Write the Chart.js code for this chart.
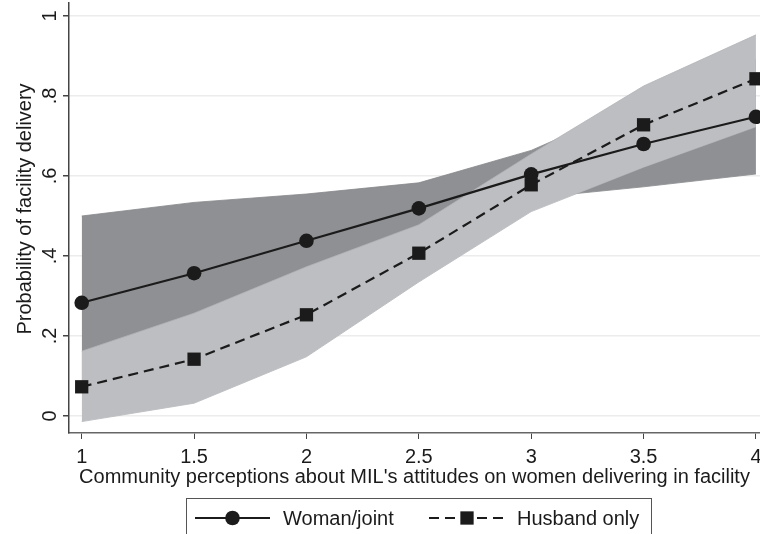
<!DOCTYPE html>
<html><head><meta charset="utf-8">
<script src="https://cdn.jsdelivr.net/npm/chart.js@4"></script>
<style>html,body{margin:0;padding:0;background:#fff}#wrap{width:760px;height:534px}</style>
</head><body><div id="wrap"><canvas id="c" width="760" height="534"></canvas></div>
<script>
// ---- data ----
const xValues = [1, 1.5, 2, 2.5, 3, 3.5, 4];
const womanJoint = [0.283, 0.357, 0.438, 0.519, 0.604, 0.680, 0.748];
const womanLower = [0.066, 0.180, 0.321, 0.455, 0.545, 0.573, 0.605];
const womanUpper = [0.500, 0.534, 0.555, 0.583, 0.664, 0.787, 0.891];
const husbandOnly = [0.073, 0.142, 0.253, 0.407, 0.578, 0.728, 0.843];
const husbandLower = [-0.014, 0.032, 0.148, 0.335, 0.511, 0.622, 0.723];
const husbandUpper = [0.162, 0.257, 0.373, 0.478, 0.655, 0.825, 0.953];
const yTicks = [0, 0.2, 0.4, 0.6, 0.8, 1];
const yTickLabels = ['0', '.2', '.4', '.6', '.8', '1'];
const xTicks = [1, 1.5, 2, 2.5, 3, 3.5, 4];
const xTickLabels = ['1', '1.5', '2', '2.5', '3', '3.5', '4'];
const seriesNames = ['Woman/joint', 'Husband only'];
const yTitle = 'Probability of facility delivery';
const xTitle = "Community perceptions about MIL's attitudes on women delivering in facility";

const FONT = '"Liberation Sans", Arial, Helvetica, sans-serif';
const INK = '#1b1b1b';
const pts = arr => xValues.map((x, i) => ({ x: x, y: arr[i] }));

const customDraw = {
  id: 'customDraw',
  afterDraw(chart) {
    const ctx = chart.ctx;
    const ys = chart.scales.y;
    ctx.save();
    ctx.fillStyle = INK;
    ctx.textAlign = 'center';
    ctx.textBaseline = 'middle';
    ctx.font = '20px ' + FONT;
    yTicks.forEach((v, i) => {
      const py = ys.getPixelForValue(v);
      ctx.save(); ctx.translate(50, py); ctx.rotate(-Math.PI / 2);
      ctx.fillText(yTickLabels[i], 0, 0); ctx.restore();
    });
    ctx.save(); ctx.translate(25, 209); ctx.rotate(-Math.PI / 2);
    ctx.fillText(yTitle, 0, 0); ctx.restore();

    // legend
    ctx.strokeStyle = '#555'; ctx.lineWidth = 1;
    ctx.strokeRect(186.5, 498.5, 465, 45);
    const ly = 518;
    const ds = chart.data.datasets;
    // Woman/joint
    ctx.strokeStyle = INK; ctx.lineWidth = 2; ctx.setLineDash([]);
    ctx.beginPath(); ctx.moveTo(195, ly); ctx.lineTo(270, ly); ctx.stroke();
    ctx.beginPath(); ctx.arc(232.5, ly, ds[1].pointRadius, 0, Math.PI * 2); ctx.fillStyle = INK; ctx.fill();
    // Husband only
    ctx.setLineDash(ds[0].borderDash);
    ctx.beginPath(); ctx.moveTo(429, ly); ctx.lineTo(504, ly); ctx.stroke();
    ctx.setLineDash([]);
    const s = ds[0].pointRadius * Math.SQRT1_2;
    ctx.fillRect(467 - s, ly - s, 2 * s, 2 * s);
    ctx.textAlign = 'left';
    ctx.fillText(seriesNames[0], 283, ly + 1);
    ctx.fillText(seriesNames[1], 517, ly + 1);
    ctx.restore();
  }
};

new Chart(document.getElementById('c'), {
  type: 'line',
  data: {
    datasets: [
      { label: seriesNames[1], data: pts(husbandOnly), borderColor: INK, backgroundColor: INK,
        borderWidth: 2.2, borderDash: [10, 6], pointStyle: 'rect', pointRadius: 9.4,
        pointBorderWidth: 0, pointBackgroundColor: INK, tension: 0, fill: false },
      { label: seriesNames[0], data: pts(womanJoint), borderColor: INK, backgroundColor: INK,
        borderWidth: 2.2, pointStyle: 'circle', pointRadius: 7.3,
        pointBorderWidth: 0, pointBackgroundColor: INK, tension: 0, fill: false },
      { label: 'hu', data: pts(husbandUpper), borderWidth: 0.8, borderColor: '#b3b4b8', pointRadius: 0,
        fill: '+1', backgroundColor: '#bdbec2', tension: 0 },
      { label: 'hl', data: pts(husbandLower), borderWidth: 0.8, borderColor: '#b3b4b8', pointRadius: 0, fill: false, tension: 0 },
      { label: 'wu', data: pts(womanUpper), borderWidth: 0.8, borderColor: '#858689', pointRadius: 0,
        fill: '+1', backgroundColor: '#8f9094', tension: 0 },
      { label: 'wl', data: pts(womanLower), borderWidth: 0.8, borderColor: '#858689', pointRadius: 0, fill: false, tension: 0 }
    ]
  },
  options: {
    responsive: false, animation: false, devicePixelRatio: 1,
    layout: { autoPadding: false, padding: { top: 3, left: 0, right: 0, bottom: 0 } },
    plugins: { legend: { display: false }, tooltip: { enabled: false } },
    scales: {
      x: {
        type: 'linear', min: 0.9435, max: 4.018,
        afterBuildTicks: s => { s.ticks = xTicks.map(v => ({ value: v })); },
        afterFit: s => { s.height = 101; s.paddingLeft = 0; s.paddingRight = 0; },
        ticks: { callback: (v) => xTickLabels[xTicks.indexOf(v)], font: { size: 20, family: FONT },
                 color: INK, padding: 6, maxRotation: 0, autoSkip: false },
        grid: { drawOnChartArea: false, drawTicks: true, tickLength: 6, tickColor: '#444' },
        border: { color: '#666', width: 1.5 },
        title: { display: true, text: xTitle, font: { size: 20, family: FONT }, color: INK,
                 padding: { top: 0, bottom: 45 } }
      },
      y: {
        type: 'linear', min: -0.0425, max: 1.0325,
        afterBuildTicks: s => { s.ticks = yTicks.map(v => ({ value: v })); },
        afterFit: s => { s.width = 69; s.paddingTop = 0; s.paddingBottom = 0; },
        ticks: { display: false },
        grid: { color: '#ececec', lineWidth: 1.5, drawTicks: true, tickLength: 6, tickColor: '#444' },
        border: { color: '#444', width: 1.5 }
      }
    }
  },
  plugins: [customDraw]
});
</script>
</body></html>
